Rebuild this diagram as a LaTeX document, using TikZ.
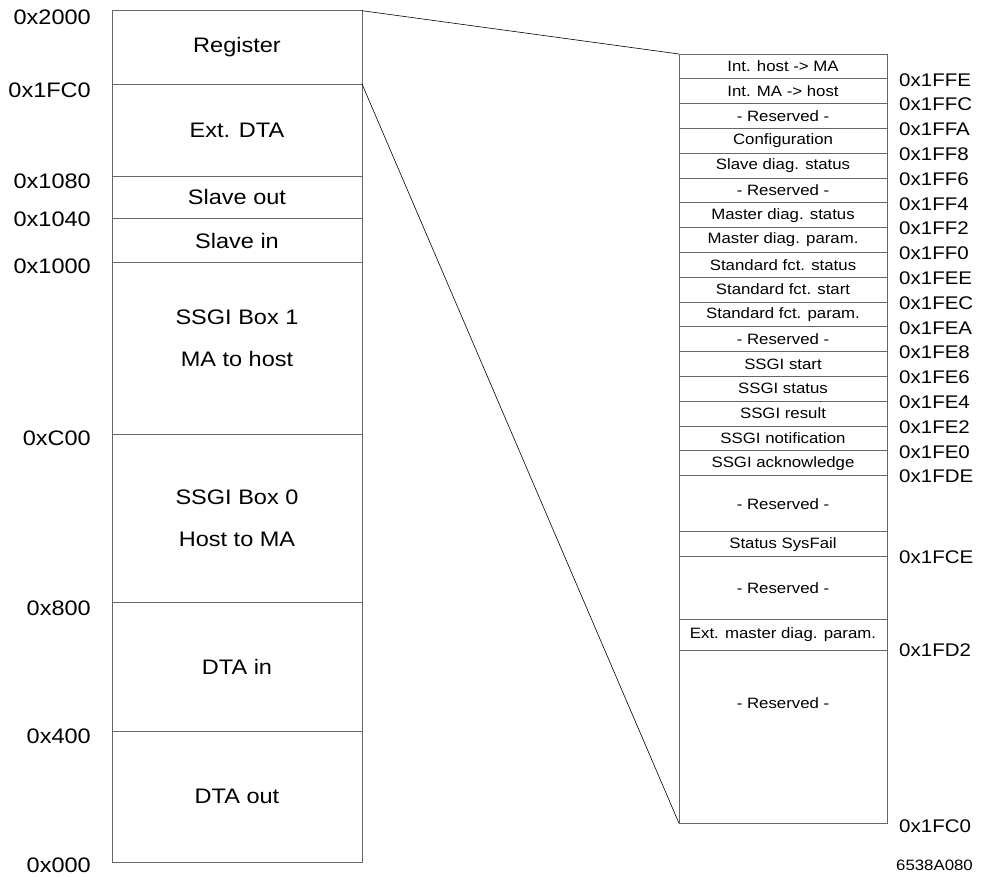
\documentclass[tikz,border=0pt]{standalone}
\usepackage{fontspec}
\setmainfont{Liberation Sans}[FakeStretch=1.12]
\usetikzlibrary{positioning}

\begin{document}
\begin{tikzpicture}[
  x=1pt, y=-1pt,
  blk/.style={draw=black!60, line width=0.8pt, minimum width=250pt, inner sep=0pt, outer sep=0pt, anchor=north west, font=\fontsize{21}{25}\selectfont},
  row/.style={draw=black!60, line width=0.8pt, minimum width=208pt, minimum height=24.8pt, inner sep=0pt, outer sep=0pt, anchor=north west, font=\fontsize{15}{18}\selectfont},
  addr/.style={anchor=east, inner sep=0pt, font=\fontsize{21}{25}\selectfont},
  raddr/.style={inner sep=0pt, font=\fontsize{18.3}{22}\selectfont},
  two/.style={align=center, font=\fontsize{21}{42}\selectfont},
  link/.style={draw=black, line width=0.6pt},
]
\useasboundingbox (0,0) rectangle (982,877);
% memory map (left)
\node[blk, minimum height=73.3pt] (reg) at (112,10.7) {Register};
\node[blk, minimum height=92pt, below=0pt of reg] (ext) {Ext. DTA};
\node[blk, minimum height=42.7pt, below=0pt of ext] (sout) {Slave out};
\node[blk, minimum height=43.6pt, below=0pt of sout] (sin) {Slave in};
\node[blk, minimum height=171.7pt, below=0pt of sin] (box1) {};
\node[blk, minimum height=168.3pt, below=0pt of box1] (box0) {};
\node[blk, minimum height=129pt, below=0pt of box0] (dtain) {DTA in};
\node[blk, minimum height=130.7pt, below=0pt of dtain] (dtaout) {DTA out};
\node[two] (box1txt) at ([yshift=10pt]box1.center) {SSGI Box 1\\MA to host};
\node[two] (box0txt) at (box0.center) {SSGI Box 0\\Host to MA};
% addresses (left)
\foreach \n/\y/\a in {a/17/2000, b/90/1FC0, c/181/1080, d/219/1040, e/266.5/1000, f/438/C00, g/608/800, h/736.7/400, k/865/000}{
  \node[addr] (l\n) at (91,\y) {0x\a};
}
% register block (right)
\node[row] (r1) at (679,54) {Int. host -> MA};
\foreach \i/\t in {2/{Int. MA -> host}, 3/{- Reserved -}, 4/{Configuration}, 5/{Slave diag. status}, 6/{- Reserved -}, 7/{Master diag. status}, 8/{Master diag. param.}, 9/{Standard fct. status}, 10/{Standard fct. start}, 11/{Standard fct. param.}, 12/{- Reserved -}, 13/{SSGI start}, 14/{SSGI status}, 15/{SSGI result}, 16/{SSGI notification}, 17/{SSGI acknowledge}}{
  \pgfmathtruncatemacro\p{\i-1}
  \node[row, below=0pt of r\p] (r\i) {\t};
}
\node[row, minimum height=56.1pt, below=0pt of r17] (res1) {- Reserved -};
\node[row, minimum height=25pt, below=0pt of res1] (sysf) {Status SysFail};
\node[row, minimum height=62.3pt, below=0pt of sysf] (res2) {- Reserved -};
\node[row, minimum height=31.3pt, below=0pt of res2] (extm) {Ext. master diag. param.};
\node[row, minimum height=173pt, below=0pt of extm] (res3) {};
\node[font=\fontsize{15}{18}\selectfont] (res3txt) at ([yshift=34pt]res3.center) {- Reserved -};
% addresses (right)
\foreach \i/\a in {1/1FFE, 2/1FFC, 3/1FFA, 4/1FF8, 5/1FF6, 6/1FF4, 7/1FF2, 8/1FF0, 9/1FEE, 10/1FEC, 11/1FEA, 12/1FE8, 13/1FE6, 14/1FE4, 15/1FE2, 16/1FE0, 17/1FDE}{
  \node[raddr, right=12pt of r\i.south east, yshift=-1pt] (a\i) {0x\a};
}
\node[raddr, right=12pt of sysf.south east] (asysf) {0x1FCE};
\node[raddr, right=12pt of extm.south east] (aextm) {0x1FD2};
\node[raddr, right=12pt of res3.south east, yshift=-3pt] (ares3) {0x1FC0};
\node[anchor=east, inner sep=0pt, font=\fontsize{15}{18}\selectfont] (code) at (973,865) {6538A080};
% zoom lines
\draw[link] (reg.north east) -- (r1.north west);
\draw[link] (reg.south east) -- (res3.south west);
\end{tikzpicture}
\end{document}
